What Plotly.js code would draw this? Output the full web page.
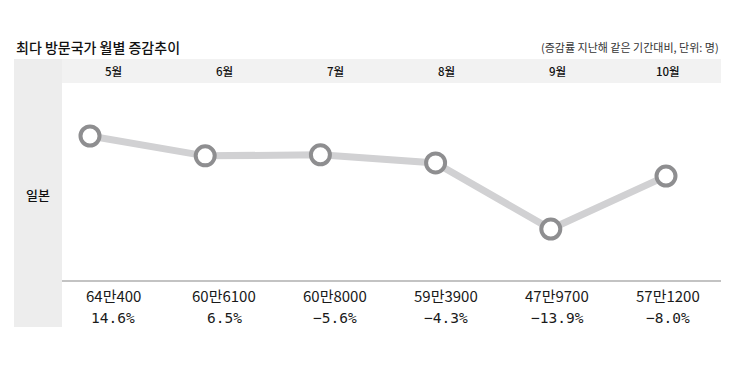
<!DOCTYPE html>
<html><head><meta charset="utf-8">
<script src="https://cdn.plot.ly/plotly-3.0.1.min.js"></script>
<style>html,body{margin:0;padding:0;background:#fff}</style>
</head><body>
<div id="chart" style="width:750px;height:367px"></div>
<script>
const months = ['5월','6월','7월','8월','9월','10월'];
const visitors = [640400, 606100, 608000, 593900, 479700, 571200];
const visitorLabels = ['64만400','60만6100','60만8000','59만3900','47만9700','57만1200'];
const changeLabels = ['14.6%','6.5%','−5.6%','−4.3%','−13.9%','−8.0%'];
const country = '일본';
const titleText = '최다 방문국가 월별 증감추이';
const noteText = '(증감률 지난해 같은 기간대비, 단위: 명)';

const W = 750, H = 367;
const py = p => 1 - p / H;
const px = p => p / W;
const kr = '"Noto Sans CJK KR", "Noto Sans", sans-serif';

const trace = {
  x: months, y: visitors, type: 'scatter', mode: 'lines+markers',
  xaxis: 'x', yaxis: 'y',
  line: {color: '#d1d1d3', width: 7},
  marker: {size: 19, color: '#ffffff', line: {color: '#8e8e90', width: 4}},
  hoverinfo: 'skip', cliponaxis: false
};

const ann = [];
ann.push({text: titleText, xref: 'paper', yref: 'paper', x: px(14), y: py(47), xanchor: 'left', yanchor: 'middle', showarrow: false, font: {family: kr, size: 14, weight: 500, color: '#111'}});
ann.push({text: noteText, xref: 'paper', yref: 'paper', x: px(721), y: py(47), xanchor: 'right', yanchor: 'middle', showarrow: false, font: {family: kr, size: 11, color: '#333'}});
ann.push({text: country, xref: 'paper', yref: 'paper', x: px(38), y: py(194), xanchor: 'center', yanchor: 'middle', showarrow: false, font: {family: kr, size: 13, weight: 500, color: '#111'}});
months.forEach((m, i) => {
  ann.push({text: m, xref: 'x2', yref: 'paper', x: i, y: py(71), xanchor: 'center', yanchor: 'middle', showarrow: false, font: {family: kr, size: 11.5, weight: 500, color: '#111'}});
  ann.push({text: visitorLabels[i], xref: 'x2', yref: 'paper', x: i, y: py(295), xanchor: 'center', yanchor: 'middle', showarrow: false, font: {family: kr, size: 15, color: '#1a1a1a'}});
  ann.push({text: changeLabels[i], xref: 'x2', yref: 'paper', x: i, y: py(318), xanchor: 'center', yanchor: 'middle', showarrow: false, font: {family: '"DejaVu Sans Mono", monospace', size: 14.5, color: '#1a1a1a'}});
});

const shapes = [
  {type: 'rect', xref: 'paper', yref: 'paper', x0: px(14), x1: px(62), y0: py(327), y1: py(59), fillcolor: '#ededed', line: {width: 0}, layer: 'below'},
  {type: 'rect', xref: 'paper', yref: 'paper', x0: px(62), x1: px(721), y0: py(83), y1: py(59), fillcolor: '#f2f2f2', line: {width: 0}, layer: 'below'},
  {type: 'line', xref: 'paper', yref: 'paper', x0: px(62), x1: px(721), y0: py(281), y1: py(281), line: {color: '#888888', width: 1.2}, layer: 'below'}
];

const layout = {
  width: W, height: H,
  margin: {l: 0, r: 0, t: 0, b: 0, pad: 0},
  paper_bgcolor: '#ffffff', plot_bgcolor: 'rgba(0,0,0,0)',
  showlegend: false,
  xaxis: {domain: [0, 1], type: 'category', range: [-90/115.2, (750-90)/115.2], visible: false, fixedrange: true},
  xaxis2: {domain: [0, 1], type: 'category', categoryarray: months, range: [-113/111, (750-113)/111], overlaying: 'x', visible: false, anchor: 'y'},
  yaxis: {domain: [0, 1], range: [241436, 875288], visible: false},
  annotations: ann,
  shapes: shapes
};

Plotly.newPlot('chart', [trace], layout, {displayModeBar: false, staticPlot: true});
</script>
</body></html>
